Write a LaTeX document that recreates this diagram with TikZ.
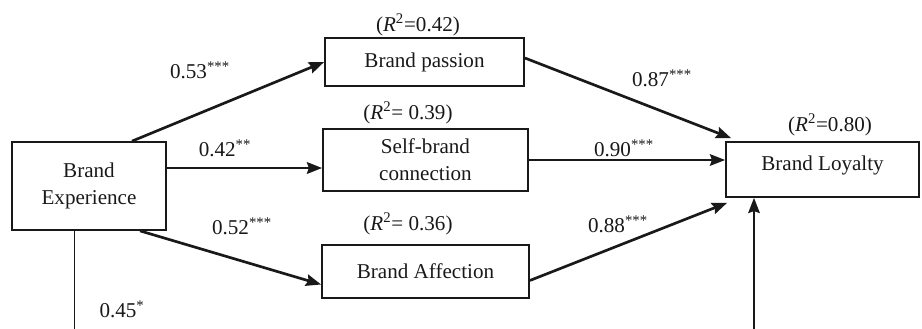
\documentclass[tikz,border=0pt]{standalone}
\usepackage{fontspec}
\setmainfont{Liberation Serif}
\usetikzlibrary{arrows.meta, calc}

\begin{document}
\begin{tikzpicture}[x=0.025cm, y=-0.025cm, >={Stealth[length=3.8mm, width=2.9mm, inset=0.5mm]}, every node/.style={font=\fontsize{15}{19}\selectfont, text=black!90}, construct/.style={draw=black!90, line width=1.2pt, align=center, inner sep=0pt}, strongpath/.style={->, draw=black!90, line width=1.9pt}, weakpath/.style={->, draw=black!90, line width=1.4pt}]
  \useasboundingbox (0,0) rectangle (922,329);
  \node[construct, minimum width=3.85cm, minimum height=2.2cm] (exper) at (89,186) {Brand\\Experience};
  \node[construct, minimum width=4.975cm, minimum height=1.2cm] (passion) at (424.5,62) {Brand passion};
  \node[construct, minimum width=5.125cm, minimum height=1.55cm] (selfconn) at (425.5,160) {Self-brand\\connection};
  \node[construct, minimum width=5.175cm, minimum height=1.325cm] (affect) at (425.5,271.5) {Brand Affection};
  \node[construct, minimum width=4.825cm, minimum height=1.375cm, text depth=0.3cm] (loyal) at (822.5,169.5) {Brand Loyalty};
  \node (rpassion) at (418,25) {(\textit{R}\textsuperscript{2}=0.42)};
  \node (rselfconn) at (408,113) {(\textit{R}\textsuperscript{2}= 0.39)};
  \node (raffect) at (408,224) {(\textit{R}\textsuperscript{2}= 0.36)};
  \node (rloyal) at (830,125) {(\textit{R}\textsuperscript{2}=0.80)};
  \coordinate (cutleft) at (74,329);
  \coordinate (cutright) at (754,329);
  \draw[strongpath] ($(exper.north)+(43,0)$) -- (passion.west);
  \draw[strongpath] ($(exper.east)+(0,-18)$) -- ($(selfconn.west)+(0,8)$);
  \draw[strongpath] ($(exper.south)+(51,0)$) -- ($(affect.west)+(0,13)$);
  \draw[strongpath] ($(passion.east)+(0,-4)$) -- ($(loyal.north west)+(6,-3)$);
  \draw[weakpath] (selfconn.east) -- (selfconn.east -| loyal.west);
  \draw[strongpath] ($(affect.east)+(0,9)$) -- ($(loyal.south west)+(2,5)$);
  \draw[draw=black!90, line width=0.7pt] (exper.south -| cutleft) -- (cutleft);
  \draw[weakpath] (cutright) -- (loyal.south -| cutright);
  \node (wpassion) at (200,70) {0.53\textsuperscript{***}};
  \node (wselfconn) at (225,148) {0.42\textsuperscript{**}};
  \node (waffect) at (242,226) {0.52\textsuperscript{***}};
  \node (wdirect) at (122,309) {0.45\textsuperscript{*}};
  \node (wpasloy) at (662,78) {0.87\textsuperscript{***}};
  \node (wselloy) at (624,148) {0.90\textsuperscript{***}};
  \node (waffloy) at (618,224) {0.88\textsuperscript{***}};
\end{tikzpicture}
\end{document}
